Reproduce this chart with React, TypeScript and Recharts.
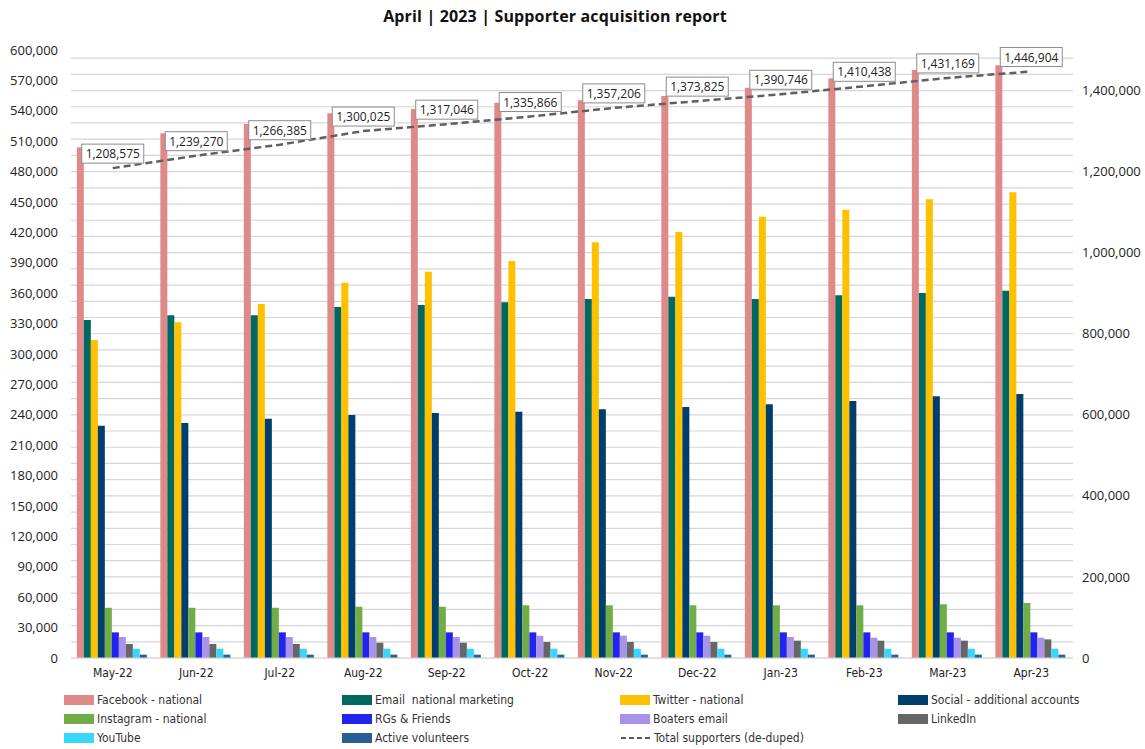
import React from "react";
import {
  Bar,
  CartesianGrid,
  ComposedChart,
  LabelList,
  Line,
  XAxis,
  YAxis,
} from "recharts";

// Monthly supporter counts per acquisition channel
const months = [
  "May-22", "Jun-22", "Jul-22", "Aug-22", "Sep-22", "Oct-22",
  "Nov-22", "Dec-22", "Jan-23", "Feb-23", "Mar-23", "Apr-23",
];

const facebook = [504000, 517800, 527000, 537500, 541700, 548000, 550300, 554600, 562800, 572000, 580200, 584900];
const email = [333500, 338200, 338200, 346400, 348300, 351000, 354300, 356600, 354300, 357900, 360200, 362500];
const twitter = [313800, 331300, 349300, 370400, 381200, 391800, 410200, 420400, 435500, 442400, 452600, 459500];
const social = [229200, 231900, 236200, 239800, 241800, 243100, 245400, 247700, 250300, 253600, 258200, 260500];
const instagram = [49600, 49600, 49600, 50600, 50600, 52000, 52000, 52000, 52000, 52000, 53000, 54300];
const rgsFriends = [25300, 25300, 25300, 25300, 25300, 25300, 25300, 25300, 25300, 25300, 25300, 25300];
const boaters = [20700, 20700, 20700, 20700, 20700, 22000, 22000, 22000, 20700, 20000, 20000, 20000];
const linkedin = [13800, 13800, 13800, 15100, 15100, 15800, 15800, 15800, 17100, 17100, 17100, 18400];
const youtube = [9200, 9200, 9200, 9200, 9200, 9200, 9200, 9200, 9200, 9200, 9200, 9200];
const volunteers = [3300, 3300, 3300, 3300, 3300, 3300, 3300, 3300, 3300, 3300, 3300, 3300];
const totalSupporters = [
  1208575, 1239270, 1266385, 1300025, 1317046, 1335866,
  1357206, 1373825, 1390746, 1410438, 1431169, 1446904,
];

const leftTicks = [
  0, 30000, 60000, 90000, 120000, 150000, 180000, 210000, 240000, 270000, 300000,
  330000, 360000, 390000, 420000, 450000, 480000, 510000, 540000, 570000, 600000,
];
const rightMax = 1500000;
const rightTicks = [0, 200000, 400000, 600000, 800000, 1000000, 1200000, 1400000];
// horizontal grid follows the secondary axis minor unit (40,000)
const gridStep = 40000;

const series = [
  { key: "facebook", name: "Facebook - national", color: "#DF8A89", values: facebook },
  { key: "email", name: "Email  national marketing", color: "#00695F", values: email },
  { key: "twitter", name: "Twitter - national", color: "#FFC000", values: twitter },
  { key: "social", name: "Social - additional accounts", color: "#003F6D", values: social },
  { key: "instagram", name: "Instagram - national", color: "#70AD47", values: instagram },
  { key: "rgs", name: "RGs & Friends", color: "#2323EF", values: rgsFriends },
  { key: "boaters", name: "Boaters email", color: "#A993E9", values: boaters },
  { key: "linkedin", name: "LinkedIn", color: "#666666", values: linkedin },
  { key: "youtube", name: "YouTube", color: "#38D6FA", values: youtube },
  { key: "volunteers", name: "Active volunteers", color: "#285F95", values: volunteers },
];

const chartData = months.map((month, i) => {
  const row: Record<string, string | number> = { month, total: totalSupporters[i] };
  series.forEach((s) => {
    row[s.key] = s.values[i];
  });
  return row;
});

const axisFont = "'Open Sans', 'DejaVu Sans', sans-serif";
const narrowFont = "'Liberation Sans Narrow', 'DejaVu Sans Condensed', 'Liberation Sans', sans-serif";
const fmt = (v: number) => v.toLocaleString("en-US");

const gridLines = ({ offset }: any) => {
  const ys: number[] = [];
  for (let v = 0; v < rightMax; v += gridStep) {
    ys.push(offset.top + offset.height * (1 - v / rightMax));
  }
  return ys;
};

const TotalLabel = (props: any) => {
  const { x, y, value } = props;
  const text = fmt(value);
  const w = 62;
  const h = 19;
  return (
    <g>
      <rect x={x - w / 2} y={y - h - 5} width={w} height={h} fill="#fff" stroke="#8c8c8c" strokeWidth={1} />
      <text
        x={x}
        y={y - 5 - h / 2}
        textAnchor="middle"
        dominantBaseline="central"
        fontFamily={axisFont}
        fontSize={12}
        fill="#222"
      >
        {text}
      </text>
    </g>
  );
};

function LegendBlock() {
  const entries = [
    ...series,
    { key: "total", name: "Total supporters (de-duped)", color: "#595959", values: [] },
  ];
  return (
    <div
      style={{
        position: "absolute",
        left: 64,
        top: 692,
        display: "grid",
        gridTemplateColumns: "repeat(4, 278px)",
        rowGap: 3,
        fontFamily: narrowFont,
        fontSize: 12,
        color: "#333",
      }}
    >
      {entries.map((e) => (
        <div key={e.key} style={{ display: "flex", alignItems: "center", height: 16 }}>
          {e.key === "total" ? (
            <svg width={31} height={10} style={{ marginRight: 3 }}>
              <line x1={1} y1={5} x2={30} y2={5} stroke={e.color} strokeWidth={2} strokeDasharray="5 3" />
            </svg>
          ) : (
            <span style={{ width: 30, height: 10, background: e.color, marginRight: 3, display: "inline-block" }} />
          )}
          <span style={{ whiteSpace: "pre" }}>{e.name}</span>
        </div>
      ))}
    </div>
  );
}

export default function App() {
  return (
    <div style={{ position: "absolute", left: 0, top: 0, width: 1145, height: 749, background: "#fff" }}>
      <div
        style={{
          position: "absolute",
          left: 0,
          top: 5,
          width: 1110,
          textAlign: "center",
          fontFamily: axisFont,
          fontWeight: 700,
          fontSize: 16,
          letterSpacing: 0.15,
          color: "#111",
        }}
      >
        April | 2023 | Supporter acquisition report
      </div>
      <ComposedChart
        width={1145}
        height={700}
        data={chartData}
        margin={{ top: 50, right: 0, left: 0, bottom: 0 }}
        barCategoryGap="7%"
        barGap={0}
      >
        <CartesianGrid
          vertical={false}
          horizontalCoordinatesGenerator={gridLines}
          stroke="#d6d6d6"
          strokeWidth={1.2}
        />
        <XAxis
          dataKey="month"
          interval={0}
          height={42}
          axisLine={{ stroke: "#d6d6d6" }}
          tickLine={false}
          tickMargin={4}
          tick={{ fontFamily: narrowFont, fontSize: 12, fill: "#222" }}
        />
        <YAxis
          yAxisId="left"
          width={71}
          domain={[0, 600000]}
          ticks={leftTicks}
          interval={0}
          axisLine={false}
          tickLine={false}
          tickMargin={7}
          tickFormatter={fmt}
          tick={{ fontFamily: axisFont, fontSize: 13, fill: "#222" }}
        />
        <YAxis
          yAxisId="right"
          orientation="right"
          width={72}
          domain={[0, rightMax]}
          ticks={rightTicks}
          interval={0}
          axisLine={false}
          tickLine={false}
          tickMargin={3}
          tickFormatter={fmt}
          tick={{ fontFamily: axisFont, fontSize: 13, fill: "#222", textAnchor: "start" }}
        />
        {series.map((s) => (
          <Bar
            key={s.key}
            yAxisId="left"
            dataKey={s.key}
            name={s.name}
            fill={s.color}
            isAnimationActive={false}
          />
        ))}
        <Line
          yAxisId="right"
          dataKey="total"
          name="Total supporters (de-duped)"
          stroke="#5f5f5f"
          strokeWidth={2.5}
          strokeDasharray="7 4"
          dot={false}
          isAnimationActive={false}
        >
          <LabelList dataKey="total" content={TotalLabel} />
        </Line>
      </ComposedChart>
      <LegendBlock />
    </div>
  );
}
